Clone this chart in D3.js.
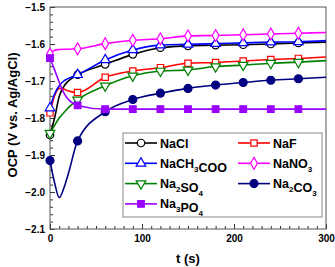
<!doctype html>
<html>
<head>
  <meta charset="utf-8">
  <title>OCP vs time</title>
  <style>
    body { margin: 0; background: #fff; }
    svg text { font-family: "Liberation Sans", Arial, sans-serif; font-weight: bold; fill: #000; }
  </style>
</head>
<body>
  <div id="chart"></div>
  <script src="https://d3js.org/d3.v7.min.js"></script>
  <script>
    // time points (s) of the read-off curves
    const times = [0, 5, 10, 15, 20, 30, 60, 90, 120, 150, 180, 210, 240, 270, 300];
    const markerTimes = [0, 30, 60, 90, 120, 150, 180, 210, 240, 270];

    const naCl = [-1.846, -1.80, -1.742, -1.715, -1.70, -1.683, -1.655, -1.628, -1.610, -1.605, -1.603, -1.602, -1.600, -1.597, -1.595];
    const naF = [-1.786, -1.74, -1.720, -1.722, -1.727, -1.731, -1.690, -1.673, -1.664, -1.652, -1.650, -1.646, -1.642, -1.639, -1.635];
    const naAc = [-1.773, -1.735, -1.713, -1.700, -1.693, -1.683, -1.643, -1.616, -1.603, -1.601, -1.599, -1.597, -1.595, -1.594, -1.591];
    const naNO3 = [-1.627, -1.617, -1.615, -1.614, -1.614, -1.613, -1.599, -1.590, -1.586, -1.578, -1.577, -1.575, -1.573, -1.571, -1.569];
    const na2SO4 = [-1.841, -1.82, -1.800, -1.786, -1.772, -1.751, -1.713, -1.686, -1.673, -1.670, -1.661, -1.657, -1.652, -1.649, -1.645];
    const na2CO3 = [-1.915, -1.975, -2.015, -1.990, -1.950, -1.862, -1.783, -1.750, -1.733, -1.720, -1.711, -1.704, -1.698, -1.694, -1.690];
    const na3PO4 = [-1.638, -1.670, -1.703, -1.732, -1.750, -1.766, -1.776, -1.776, -1.776, -1.776, -1.776, -1.776, -1.776, -1.776, -1.776];

    const names = ['NaCl', 'NaF', 'NaCH3COO', 'NaNO3', 'Na2SO4', 'Na2CO3', 'Na3PO4'];
    const colors = ['#000000', '#ff0000', '#0000ff', '#ff00ff', '#008000', '#000080', '#9900ff'];
    const yTicks = [-2.1, -2.0, -1.9, -1.8, -1.7, -1.6, -1.5];
    const xTicks = [0, 100, 200, 300];

    const symbols = [
      { type: d3.symbolCircle, size: 44, fill: '#fff', rot: 0 },
      { type: d3.symbolSquare, size: 40, fill: '#fff', rot: 0 },
      { type: d3.symbolTriangle, size: 40, fill: '#fff', rot: 0 },
      { type: d3.symbolDiamond, size: 40, fill: '#fff', rot: 0 },
      { type: d3.symbolTriangle, size: 40, fill: '#fff', rot: 180 },
      { type: d3.symbolCircle, size: 50, fill: null, rot: 0 },
      { type: d3.symbolSquare, size: 44, fill: null, rot: 0 }
    ];
    const values = [naCl, naF, naAc, naNO3, na2SO4, na2CO3, na3PO4];

    const series = names.map((n, i) => ({
      name: n,
      color: colors[i],
      sym: symbols[i],
      pts: times.map((t, j) => ({ t: t, v: values[i][j] }))
    }));

    const W = 335, H = 267;
    const m = { left: 50, right: 9, top: 7, bottom: 38 };

    const svg = d3.select('#chart').append('svg').attr('width', W).attr('height', H);

    const x = d3.scaleLinear().domain([0, 300]).range([m.left, W - m.right]);
    const y = d3.scaleLinear().domain([-2.1, -1.5]).range([H - m.bottom, m.top]);

    // minor ticks
    svg.append('g')
      .attr('transform', `translate(${m.left},0)`)
      .call(d3.axisLeft(y).tickValues(d3.range(-2.1, -1.499, 0.02)).tickSize(-3).tickSizeOuter(0).tickFormat(''))
      .call(g => g.select('.domain').remove());
    svg.append('g')
      .attr('transform', `translate(0,${H - m.bottom})`)
      .call(d3.axisBottom(x).tickValues(d3.range(0, 301, 10)).tickSize(-3).tickSizeOuter(0).tickFormat(''))
      .call(g => g.select('.domain').remove());

    // major ticks + labels
    svg.append('g')
      .attr('transform', `translate(${m.left},0)`)
      .call(d3.axisLeft(y).tickValues(yTicks).tickSize(-5).tickSizeOuter(0).tickPadding(5).tickFormat(d3.format('.1f')))
      .call(g => g.select('.domain').remove())
      .call(g => g.selectAll('text').style('font-size', '10px'));
    svg.append('g')
      .attr('transform', `translate(0,${H - m.bottom})`)
      .call(d3.axisBottom(x).tickValues(xTicks).tickSize(-5).tickSizeOuter(0).tickPadding(6).tickFormat(d3.format('d')))
      .call(g => g.select('.domain').remove())
      .call(g => g.selectAll('text').style('font-size', '10px'));

    svg.selectAll('.tick line').attr('stroke', '#333');

    // frame
    svg.append('rect')
      .attr('x', m.left).attr('y', m.top)
      .attr('width', W - m.left - m.right).attr('height', H - m.top - m.bottom)
      .attr('fill', 'none').attr('stroke', '#555').attr('stroke-width', 1);

    const line = d3.line().x(d => x(d.t)).y(d => y(d.v)).curve(d3.curveMonotoneX);

    const symPath = s => d3.symbol().type(s.type).size(s.size)();

    series.forEach(s => {
      const g = svg.append('g');
      g.append('path').datum(s.pts)
        .attr('d', line)
        .attr('fill', 'none').attr('stroke', s.color).attr('stroke-width', 1.6);
      g.selectAll('path.mk')
        .data(s.pts.filter(p => markerTimes.includes(p.t)))
        .join('path')
        .attr('class', 'mk')
        .attr('d', symPath(s.sym))
        .attr('transform', d => `translate(${x(d.t)},${y(d.v)}) rotate(${s.sym.rot})`)
        .attr('fill', s.sym.fill || s.color)
        .attr('stroke', s.color).attr('stroke-width', 1.2);
    });

    // axis titles
    svg.append('text')
      .attr('transform', `translate(17,${(m.top + H - m.bottom) / 2 - 3}) rotate(-90)`)
      .attr('text-anchor', 'middle')
      .style('font-size', '13px')
      .text('OCP (V vs. Ag/AgCl)');
    svg.append('text')
      .attr('x', 188).attr('y', 263)
      .attr('text-anchor', 'middle')
      .style('font-size', '13px')
      .text('t (s)');

    // legend
    const lg = svg.append('g');
    lg.append('rect')
      .attr('x', 123).attr('y', 133).attr('width', 199).attr('height', 84)
      .attr('fill', '#fff').attr('stroke', '#888').attr('stroke-width', 1);

    series.forEach((s, i) => {
      const col = i % 2, row = Math.floor(i / 2);
      const x0 = col === 0 ? 125 : 238;
      const yy = 143 + row * 20.3;
      lg.append('line')
        .attr('x1', x0).attr('x2', x0 + 32).attr('y1', yy).attr('y2', yy)
        .attr('stroke', s.color).attr('stroke-width', 1.6);
      lg.append('path')
        .attr('d', symPath(s.sym))
        .attr('transform', `translate(${x0 + 16},${yy}) rotate(${s.sym.rot})`)
        .attr('fill', s.sym.fill || s.color)
        .attr('stroke', s.color).attr('stroke-width', 1.2);
      const t = lg.append('text')
        .attr('x', x0 + 35).attr('y', yy + 4.5)
        .style('font-size', '12.5px');
      s.name.split(/(\d)/).filter(p => p !== '').forEach(p => {
        if (/\d/.test(p)) {
          t.append('tspan').attr('dy', 4).style('font-size', '8px').text(p);
          t.append('tspan').attr('dy', -4).text('');
        } else {
          t.append('tspan').text(p);
        }
      });
    });
  </script>
</body>
</html>
